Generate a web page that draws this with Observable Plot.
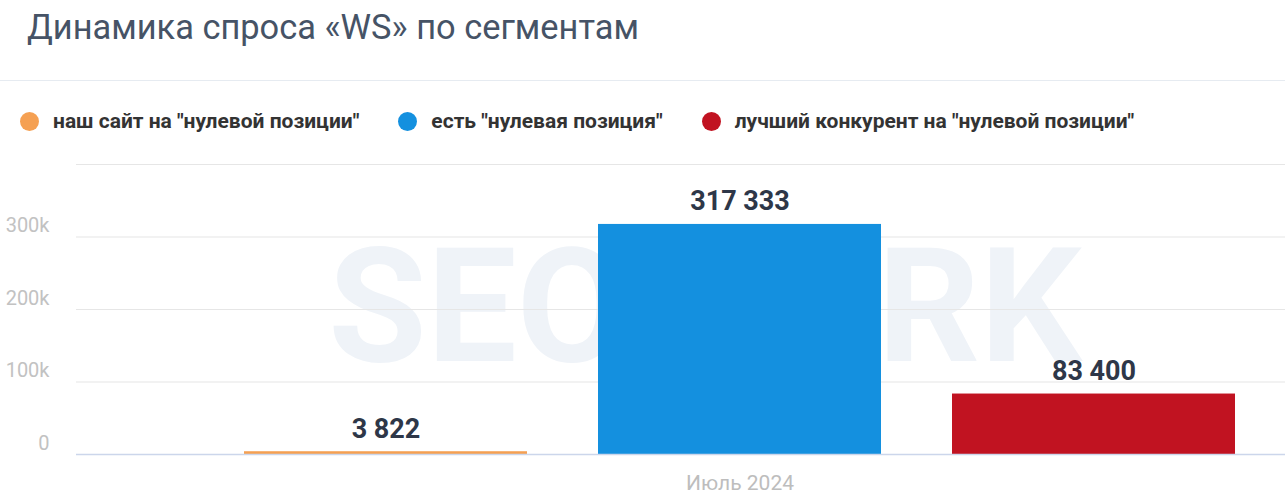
<!DOCTYPE html>
<html>
<head>
<meta charset="utf-8">
<script src="https://cdn.jsdelivr.net/npm/d3@7"></script>
<script src="https://cdn.jsdelivr.net/npm/@observablehq/plot@0.6"></script>
<style>
  html, body { margin: 0; padding: 0; background: #fff; font-family: Roboto, "Noto Sans", sans-serif; }
  #wrap { position: relative; width: 1285px; height: 500px; overflow: hidden; }
  #title { position: absolute; left: 27px; top: 7px; font-size: 34.4px; color: #465366; font-weight: 400; white-space: nowrap; }
  #divider { position: absolute; left: 0; top: 80px; width: 1285px; height: 1px; background: #e6ebf1; }
  #legend { position: absolute; left: 20px; top: 109px; display: flex; font-size: 21px; font-weight: 700; color: #333; white-space: nowrap; }
  .item { display: flex; align-items: center; margin-right: 39px; }
  .dot { width: 19px; height: 19px; border-radius: 50%; margin-right: 14px; }
  #chart { position: absolute; left: 0; top: 140px; }
</style>
</head>
<body>
<div id="wrap">
  <div id="title"></div>
  <div id="divider"></div>
  <div id="legend"></div>
  <div id="chart"></div>
</div>
<script>
const title = "Динамика спроса «WS» по сегментам";
const series = ["наш сайт на \"нулевой позиции\"", "есть \"нулевая позиция\"", "лучший конкурент на \"нулевой позиции\""];
const values = [3822, 317333, 83400];
const colors = ["#f5a052", "#1490df", "#c11321"];
const month = "Июль 2024";
const yTicks = [0, 100000, 200000, 300000];
const gridTicks = [100000, 200000, 300000, 400000];
const watermark = "SEOWORK";

document.getElementById("title").textContent = title;
const legend = document.getElementById("legend");
series.forEach((s, i) => {
  const it = document.createElement("div");
  it.className = "item";
  const dot = document.createElement("span");
  dot.className = "dot";
  dot.style.background = colors[i];
  const t = document.createElement("span");
  t.textContent = s;
  it.appendChild(dot); it.appendChild(t);
  legend.appendChild(it);
});

const data = series.map((s, i) => ({series: s, value: values[i], color: colors[i]}));
const fmt = d3.formatLocale({decimal: ".", thousands: " ", grouping: [3], currency: ["", ""]}).format(",");

const chart = Plot.plot({
  width: 1285,
  height: 360,
  marginLeft: 76,
  marginRight: 0,
  marginTop: 24,
  marginBottom: 46,
  style: {fontFamily: "Roboto, sans-serif", background: "transparent"},
  x: {domain: series, range: [173, 1306], padding: 0.2},
  y: {domain: [0, 400000]},
  marks: [
    Plot.text([watermark], {frameAnchor: "middle", dx: 24, fontSize: 160, fontWeight: 700, fill: "#eff3f8"}),
    Plot.ruleY(gridTicks, {stroke: "#e6e6e6", strokeWidth: 1.2}),
    Plot.barY(data, {x: "series", y: "value", fill: "color"}),
    Plot.ruleY([0], {stroke: "#ccd6eb", strokeWidth: 1.5}),
    Plot.text(data, {x: "series", y: "value", text: d => fmt(d.value), dy: -14, lineAnchor: "bottom", fontSize: 27, fontWeight: 700, fill: "#2e3748"}),
    Plot.axisY({ticks: yTicks, tickFormat: d3.format("~s"), tickSize: 0, tickPadding: 27, dy: -11, fontSize: 20, color: "#c2c2c2", label: null}),
    Plot.axisX({tickFormat: d => d === series[1] ? month : "", tickSize: 0, tickPadding: 21, fontSize: 21, color: "#bdbdbd", label: null})
  ]
});
document.getElementById("chart").appendChild(chart);
</script>
</body>
</html>
